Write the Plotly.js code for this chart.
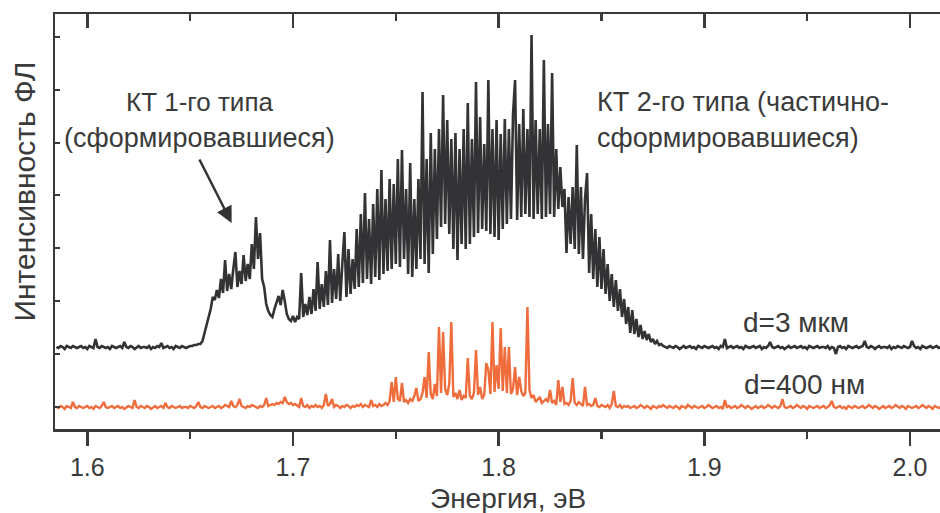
<!DOCTYPE html>
<html>
<head>
<meta charset="utf-8">
<script src="https://cdn.plot.ly/plotly-3.0.1.min.js"></script>
<style>html,body{margin:0;padding:0;background:#fff;}#chart{width:940px;height:513px;}</style>
</head>
<body>
<div id="chart"></div>
<script>
// Energy sampling grid (eV): first sample and step, used via trace x0/dx
const energyStart = 1.585;
const energyStep = 0.001;

// Sample d=3 мкм (black), PL intensity, arb. units
const thickSample = [
82,81,83,82,80,83,82,81,83,82,
81,82,83,81,82,80,83,82,81,90,
82,81,83,82,81,82,80,83,82,81,
82,83,81,87,82,81,83,82,80,82,
83,81,82,82,81,83,80,82,81,83,
82,86,81,82,83,81,82,80,83,82,
81,83,82,81,82,83,83,84,84,85,
85,88,96,104,112,120,132,129,139,131,
150,136,169,138,155,140,160,177,142,158,
145,174,148,165,150,185,160,212,170,196,
150,142,125,118,114,112,120,126,133,124,
139,128,115,110,108,113,107,112,110,156,
112,125,114,132,115,140,118,167,120,145,
122,158,124,189,126,160,130,175,128,165,
197,132,180,135,170,140,200,142,215,146,
236,150,210,145,225,152,240,149,259,155,
230,158,250,160,245,165,270,162,279,170,
240,155,266,152,230,160,250,170,337,165,
270,156,296,175,280,190,300,202,334,205,
309,195,290,180,296,169,280,185,300,180,
326,185,290,192,347,196,312,200,285,198,
349,195,300,192,309,189,295,200,310,205,
300,210,315,349,209,305,212,320,215,300,
212,394,210,309,215,300,210,369,212,305,
215,356,212,280,220,262,222,240,176,232,
185,242,180,284,175,242,170,230,256,156,
215,150,200,142,192,140,180,135,165,128,
155,122,149,118,140,112,130,105,122,96,
119,95,110,92,104,90,98,89,95,87,
90,85,88,84,85,83,82,81,83,82,
81,83,82,80,82,83,81,82,83,81,
82,80,83,82,81,83,82,81,82,83,
81,82,80,83,82,90,81,82,83,81,
82,83,81,82,80,83,82,81,82,83,
81,82,83,80,82,81,83,87,82,81,
82,83,81,82,80,82,83,81,82,83,
81,82,83,81,82,80,83,82,81,82,
83,81,82,82,81,83,80,82,81,75,
82,83,81,82,80,83,82,81,82,83,
81,82,83,88,82,81,83,82,80,82,
83,81,82,82,81,83,80,82,81,83,
82,81,83,82,81,82,88,83,81,82,
80,83,82,81,82,83,81,82,83,81,
82];

// Sample d=400 нм (orange), PL intensity, arb. units
const thinSample = [
22,21,23,22,20,23,22,21,27,22,
21,23,22,21,22,23,21,22,20,23,
22,21,23,27,22,21,22,23,21,22,
23,21,22,20,22,23,22,21,29,22,
21,23,22,21,23,22,20,22,23,21,
22,23,21,26,22,21,23,22,21,22,
23,21,22,22,21,23,22,21,23,27,
22,21,23,22,21,22,23,21,22,23,
21,22,24,23,22,28,23,22,24,30,
23,22,21,23,22,24,23,22,21,23,
22,24,31,23,24,25,24,26,25,27,
26,32,27,25,26,24,25,23,22,31,
23,22,24,21,23,22,24,22,23,21,
24,35,23,25,30,22,24,23,21,23,
22,24,23,21,23,22,24,23,25,22,
24,23,22,29,23,24,22,25,23,24,
26,24,28,47,27,52,30,28,46,27,
29,26,30,28,33,41,28,30,36,52,
31,77,35,30,45,33,102,36,97,40,
34,45,107,32,36,30,39,29,33,31,
71,33,30,36,79,34,42,30,34,66,
59,35,107,37,64,40,101,38,82,36,
82,35,40,62,34,52,38,33,36,122,
39,31,34,27,30,32,26,28,30,27,
39,26,28,24,49,27,42,25,26,24,
28,51,26,24,27,25,23,42,24,25,
23,24,31,23,22,24,23,22,24,21,
25,38,23,22,24,21,23,22,23,21,
22,23,21,22,24,22,21,23,22,20,
23,22,21,23,22,24,22,21,23,22,
21,23,22,20,23,22,21,24,22,21,
23,22,21,22,23,21,22,24,22,21,
22,23,21,22,20,29,22,23,21,22,
23,21,22,24,22,21,23,22,20,22,
23,21,22,23,21,22,24,22,21,23,
22,21,23,30,22,21,22,23,21,22,
24,22,21,23,22,20,23,22,21,22,
23,21,22,23,21,22,24,28,22,21,
22,23,21,22,20,23,22,21,23,22,
21,22,23,21,22,24,22,21,23,22,
20,22,23,21,22,23,21,22,24,22,
21,23,22,20,23,22,21,22,23,21,
22,24,22,21,23,22,20,23,22,21,
22];

const xTickVals = [1.6, 1.7, 1.8, 1.9, 2.0];
const xTickText = ["1.6", "1.7", "1.8", "1.9", "2.0"];

const FONT = "Arial, 'Liberation Sans', sans-serif";
const TXT = "#3a3a3a";
const AX = "#3a3a3a";

const traces = [
  {type: "scatter", mode: "lines", x0: energyStart, dx: energyStep, y: thinSample,
   line: {color: "#ef6d3c", width: 2.4}, hoverinfo: "skip", showlegend: false},
  {type: "scatter", mode: "lines", x0: energyStart, dx: energyStep, y: thickSample,
   line: {color: "#333336", width: 2.6}, hoverinfo: "skip", showlegend: false},
  {type: "scatter", mode: "lines", x: [], y: [], xaxis: "x2", hoverinfo: "skip", showlegend: false}
];

const xRange = [1.5843, 2.0146];

const layout = {
  width: 940, height: 513,
  margin: {l: 55, r: 0, t: 14, b: 84},
  paper_bgcolor: "#fff", plot_bgcolor: "#fff",
  showlegend: false,
  font: {family: FONT, color: TXT, size: 24},
  xaxis: {
    range: xRange, showgrid: false, zeroline: false,
    showline: true, linecolor: AX, linewidth: 2.5,
    tickmode: "array", tickvals: xTickVals, ticktext: xTickText,
    ticks: "outside", ticklen: 14, tickwidth: 2.5, tickcolor: AX,
    tickfont: {family: FONT, size: 25, color: TXT},
    minor: {dtick: 0.05, tick0: 1.6, ticks: "outside", ticklen: 7, tickwidth: 2.5, tickcolor: AX, showgrid: false}
  },
  xaxis2: {
    overlaying: "x", side: "top", matches: "x", range: xRange,
    showgrid: false, zeroline: false,
    showline: true, linecolor: AX, linewidth: 2.5,
    tickmode: "array", tickvals: xTickVals, showticklabels: false,
    ticks: "inside", ticklen: 14, tickwidth: 2.5, tickcolor: AX,
    minor: {dtick: 0.05, tick0: 1.6, ticks: "inside", ticklen: 7, tickwidth: 2.5, tickcolor: AX, showgrid: false}
  },
  yaxis: {
    range: [0, 415], showgrid: false, zeroline: false,
    showline: true, linecolor: AX, linewidth: 2.5,
    tickmode: "linear", tick0: 22, dtick: 52.9,
    ticks: "inside", ticklen: 5, tickwidth: 2, tickcolor: AX,
    showticklabels: false
  },
  annotations: [
    {xref: "paper", yref: "paper", x: 0.512, y: -0.168, xanchor: "center", yanchor: "middle",
     text: "Энергия, эВ", showarrow: false, font: {family: FONT, size: 28, color: TXT}},
    {xref: "paper", yref: "paper", x: -0.034, y: 0.572, xanchor: "center", yanchor: "middle",
     text: "Интенсивность ФЛ", textangle: -90, showarrow: false, font: {family: FONT, size: 30, color: TXT}},
    {xref: "x", yref: "y", x: 1.6546, y: 327, text: "КТ 1-го типа", showarrow: false,
     font: {family: FONT, size: 26, color: TXT}},
    {xref: "x", yref: "y", x: 1.6546, y: 291, text: "(сформировавшиеся)", showarrow: false,
     font: {family: FONT, size: 27, color: TXT}},
    {xref: "x", yref: "y", x: 1.8467, y: 327, xanchor: "left", text: "КТ 2-го типа (частично-", showarrow: false,
     font: {family: FONT, size: 27, color: TXT}},
    {xref: "x", yref: "y", x: 1.8467, y: 291, xanchor: "left", text: "сформировавшиеся)", showarrow: false,
     font: {family: FONT, size: 27, color: TXT}},
    {xref: "x", yref: "y", x: 1.9447, y: 107, text: "d=3 мкм", showarrow: false,
     font: {family: FONT, size: 28, color: TXT}},
    {xref: "x", yref: "y", x: 1.9486, y: 45, text: "d=400 нм", showarrow: false,
     font: {family: FONT, size: 28, color: TXT}},
    {xref: "x", yref: "y", x: 1.6702, y: 206, ax: -33, ay: -65, text: "", showarrow: true,
     arrowhead: 2, arrowsize: 1.3, arrowwidth: 2.5, arrowcolor: "#333"}
  ]
};

Plotly.newPlot("chart", traces, layout, {staticPlot: true, displayModeBar: false});
</script>
</body>
</html>
